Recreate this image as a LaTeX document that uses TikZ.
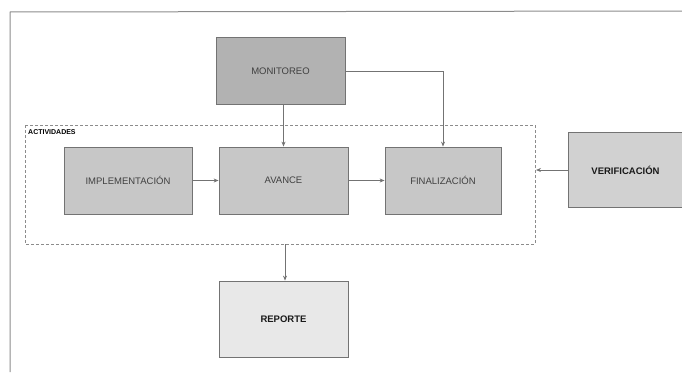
\documentclass[tikz,border=0pt]{standalone}
\usepackage{fontspec}
\setmainfont{Liberation Sans}
\usetikzlibrary{arrows.meta,positioning}
\begin{document}
\begin{tikzpicture}[x=1pt,y=-1pt,
  blk/.style={draw=black!55,line width=0.8pt,minimum width=129pt,minimum height=67pt,
    inner sep=0pt,text=black!75,font=\fontsize{9.5}{11}\selectfont},
  bblk/.style={blk,text=black!90,font=\bfseries\fontsize{9.5}{11}\selectfont},
  conn/.style={draw=black!55,line width=0.7pt,-{Stealth[length=5pt,width=4pt]}},
  group/.style={draw=black!45,line width=0.6pt,dash pattern=on 3pt off 2pt}]
\useasboundingbox (0,0) rectangle (682,372);
% page frame
\draw[black!45,line width=1pt] (10,372) -- (10,12) -- (682,11);
% activities group
\draw[group] (25,125) rectangle (535,244);
\node[anchor=north west,inner sep=0pt,font=\bfseries\fontsize{7}{8}\selectfont] (actlbl) at (28,129) {ACTIVIDADES};
\coordinate (grpbot) at (285,244);
\coordinate (grpright) at (536,170);
% blocks
\node[blk,fill=black!30] (mon) at (280.5,71) {MONITOREO};
\node[blk,fill=black!22,minimum width=128pt] (imp) at (128,180.5) {IMPLEMENTACIÓN};
\node[blk,fill=black!22] (ava) at (283.5,180.5) {AVANCE};
\node[blk,fill=black!22,minimum width=116pt] (fin) at (443,180.5) {FINALIZACIÓN};
\node[bblk,fill=black!18,minimum width=114pt,minimum height=75pt] (ver) at (625.5,170) {VERIFICACIÓN};
\node[bblk,fill=black!9,minimum height=76pt] (rep) at (283.5,319) {REPORTE};
% connectors
\draw[conn] (mon.south -| ava.north) -- (ava.north);
\draw[conn] (mon.east) -- (mon.east -| fin.north) -- (fin.north);
\draw[conn] (imp) -- (ava);
\draw[conn] (ava) -- (fin);
\draw[conn] (ver.west) -- (grpright);
\draw[conn] (grpbot) -- (rep.north -| grpbot);
\end{tikzpicture}
\end{document}
